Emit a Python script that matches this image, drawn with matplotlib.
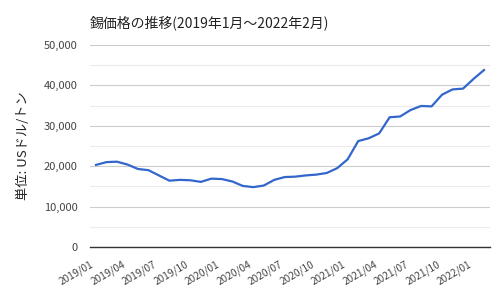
import matplotlib.pyplot as plt
import matplotlib.transforms as mtransforms
from matplotlib.ticker import MultipleLocator, FuncFormatter

plt.rcParams['font.family'] = ['Noto Sans CJK JP', 'DejaVu Sans']

# monthly tin price, USD/ton, 2019/01 .. 2022/02
months = [f"{y}/{m:02d}" for y in range(2019, 2023) for m in range(1, 13)][:38]
prices = [20300, 21000, 21100, 20400, 19300, 19000, 17700, 16400, 16600, 16500,
          16100, 16900, 16800, 16200, 15100, 14800, 15200, 16600, 17300, 17400,
          17700, 17900, 18300, 19500, 21700, 26200, 26900, 28100, 32100, 32300,
          33900, 34900, 34800, 37700, 39000, 39200, 41600, 43800]

title = "錫価格の推移(2019年1月～2022年2月)"
ylabel = "単位: USドル/トン"

fig = plt.figure(figsize=(5, 3), dpi=100)
ax = fig.add_axes([0.18, 0.177, 0.80, 0.673])

x = list(range(len(prices)))
ax.plot(x, prices, color="#3366cc", linewidth=1.6)

ax.set_xlim(-0.57, len(prices) - 1 + 0.57)
ax.set_ylim(0, 50000)
ax.yaxis.set_major_locator(MultipleLocator(10000))
ax.yaxis.set_minor_locator(MultipleLocator(5000))
ax.yaxis.set_major_formatter(FuncFormatter(lambda v, p: f"{int(v):,}"))
ax.grid(axis="y", which="major", color="#cccccc", linewidth=0.8)
ax.grid(axis="y", which="minor", color="#ebebeb", linewidth=0.8)
ax.set_axisbelow(True)

tick_idx = x[::3]
ax.set_xticks(tick_idx)
ax.set_xticklabels([months[i] for i in tick_idx], rotation=30, ha="right",
                   rotation_mode="anchor", fontsize=7.3, color="#444444")
ax.tick_params(axis="both", which="both", length=0)
ax.tick_params(axis="y", labelsize=8, labelcolor="#444444", pad=9)
ax.tick_params(axis="x", pad=9)

# nudge the rotated date labels slightly left, like the original
shift = mtransforms.ScaledTranslation(-4 / 72, 0, fig.dpi_scale_trans)
for lab in ax.get_xticklabels():
    lab.set_transform(lab.get_transform() + shift)

for s in ["top", "right", "left"]:
    ax.spines[s].set_visible(False)
ax.spines["bottom"].set_color("#333333")
ax.spines["bottom"].set_linewidth(1)

ax.set_ylabel(ylabel, fontsize=9.5, color="#222222", labelpad=10)
fig.text(0.18, 0.925, title, fontsize=10, color="#222222", ha="left", va="center")

fig.savefig("out.png", dpi=100)
